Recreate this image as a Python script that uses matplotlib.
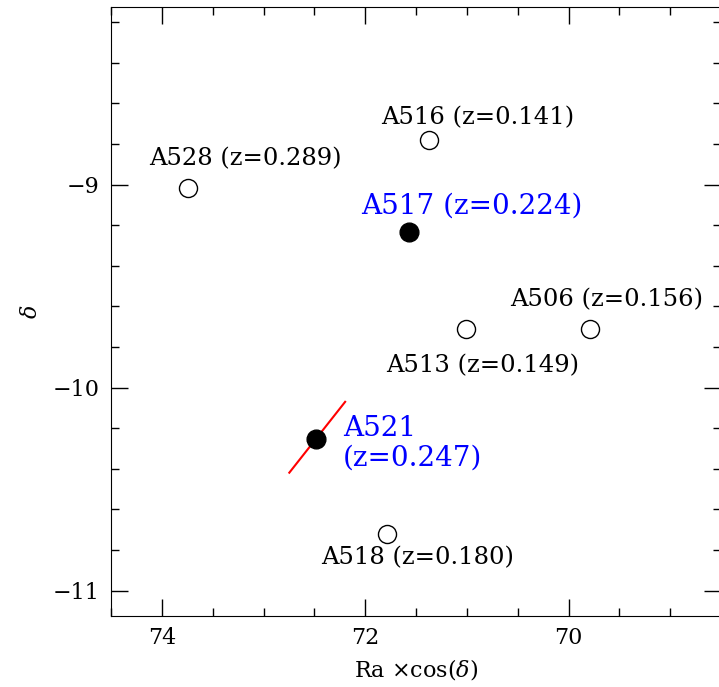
import matplotlib
matplotlib.use("Agg")
import matplotlib.pyplot as plt
from matplotlib.ticker import MultipleLocator

# cluster positions (Ra*cos(delta), delta) and redshifts
names = ["A528", "A516", "A517", "A506", "A513", "A521", "A518"]
ra = [73.74, 71.37, 71.57, 69.79, 71.005, 72.48, 71.79]
dec = [-9.015, -8.78, -9.234, -9.709, -9.709, -10.255, -10.72]
redshift = [0.289, 0.141, 0.224, 0.156, 0.149, 0.247, 0.180]
highlight = [False, False, True, False, False, True, False]

# elongation axis drawn through A521
axis_ra = [72.746, 72.197]
axis_dec = [-10.419, -10.07]

# label offsets (points) per cluster
label_offsets = [(41, 21), (35, 16), (45, 19), (12, 21), (12, -27), (19, -3), (22, -17)]

plt.rcParams["font.family"] = ["DejaVu Serif"]
plt.rcParams["mathtext.fontset"] = "dejavuserif"

fig = plt.figure(figsize=(7.19, 6.87), dpi=100)
ax = fig.add_axes([111 / 719, 1 - 616 / 687, 610 / 719, 609 / 687])

ax.plot(axis_ra, axis_dec, color="red", lw=1.5, zorder=2)

for n, x, y, z, hl, off in zip(names, ra, dec, redshift, highlight, label_offsets):
    if hl:
        ax.plot(x, y, "o", ms=13.5, mfc="black", mec="black", zorder=3)
        if n == "A521":
            ax.annotate(f"{n}\n(z={z:.3f})", (x, y), xytext=off,
                        textcoords="offset points", ha="left", va="center",
                        color="blue", fontsize=20, linespacing=1.12)
        else:
            ax.annotate(f"{n} (z={z:.3f})", (x, y), xytext=off,
                        textcoords="offset points", ha="center", va="center",
                        color="blue", fontsize=20)
    else:
        ax.plot(x, y, "o", ms=13, mfc="white", mec="black", mew=1.0, zorder=3)
        ax.annotate(f"{n} (z={z:.3f})", (x, y), xytext=off,
                    textcoords="offset points", ha="center", va="center",
                    color="black", fontsize=17.5)

ax.set_xlim(74.5, 68.5)
ax.set_ylim(-11.125, -8.125)
ax.xaxis.set_major_locator(MultipleLocator(2))
ax.xaxis.set_minor_locator(MultipleLocator(0.5))
ax.yaxis.set_major_locator(MultipleLocator(1))
ax.yaxis.set_minor_locator(MultipleLocator(0.2))
ax.tick_params(which="both", direction="in", top=True, right=True,
               labelsize=16, pad=8)
ax.tick_params(which="major", length=12, width=1)
ax.tick_params(which="minor", length=6, width=1)
ax.xaxis.set_major_formatter(plt.FuncFormatter(lambda v, p: f"{v:.0f}"))
ax.yaxis.set_major_formatter(plt.FuncFormatter(lambda v, p: f"\u2212{abs(v):.0f}"))

ax.set_xlabel(r"Ra $\times$cos($\delta$)", fontsize=16, labelpad=6)
ax.set_ylabel(r"$\delta$", fontsize=16, labelpad=8)

fig.savefig("out.png", dpi=100)
